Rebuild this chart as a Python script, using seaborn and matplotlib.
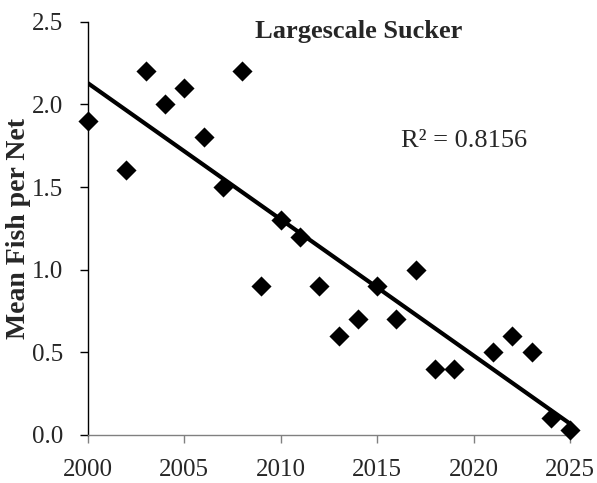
import numpy as np
import pandas as pd
import matplotlib
matplotlib.use("Agg")
import matplotlib.pyplot as plt
import seaborn as sns

years = [2000, 2002, 2003, 2004, 2005, 2006, 2007, 2008, 2009, 2010, 2011, 2012,
         2013, 2014, 2015, 2016, 2017, 2018, 2019, 2021, 2022, 2023, 2024, 2025]
fish_per_net = [1.9, 1.6, 2.2, 2.0, 2.1, 1.8, 1.5, 2.2, 0.9, 1.3, 1.2, 0.9,
                0.6, 0.7, 0.9, 0.7, 1.0, 0.4, 0.4, 0.5, 0.6, 0.5, 0.1, 0.03]
x_ticks = [2000, 2005, 2010, 2015, 2020, 2025]
y_ticks = [0.0, 0.5, 1.0, 1.5, 2.0, 2.5]

df = pd.DataFrame({"Year": years, "Fish": fish_per_net})

sns.set_theme(style="ticks")
plt.rcParams["font.family"] = ["Liberation Serif", "DejaVu Serif"]

fig = plt.figure(figsize=(5.97, 4.83), dpi=100)
ax = fig.add_axes([0.147, 0.0994, 0.808, 0.8557])

# linear trend line and the yearly means
sns.regplot(data=df, x="Year", y="Fish", ax=ax, scatter=False, ci=None,
            truncate=True, line_kws={"color": "black", "linewidth": 3.0})
sns.scatterplot(data=df, x="Year", y="Fish", ax=ax, marker="D", s=105,
                color="black", edgecolor="black", linewidth=0, zorder=3,
                clip_on=False)

ax.set_xlim(2000, 2025)
ax.set_ylim(0, 2.5)
ax.set_xticks(x_ticks)
ax.set_yticks(y_ticks)
ax.set_yticklabels([f"{v:.1f}" for v in y_ticks])
ax.tick_params(axis="x", labelsize=18, color="#808080", length=6, width=1,
               direction="out", pad=11)
ax.tick_params(axis="y", labelsize=18, color="black", length=6, width=1,
               direction="out", pad=12)
ax.spines["left"].set_color("black")
ax.spines["bottom"].set_color("#808080")
for side in ["left", "bottom"]:
    ax.spines[side].set_linewidth(1)
sns.despine(ax=ax)

ax.set_xlabel("")
ax.set_ylabel("Mean Fish per Net", fontsize=20, fontweight="bold")
ax.yaxis.set_label_coords(-0.118, 0.5)
ax.text(0.562, 0.977, "Largescale Sucker", transform=ax.transAxes,
        ha="center", va="center", fontsize=19, fontweight="bold")
ax.text(0.78, 0.711, "R\u00b2 = 0.8156", transform=ax.transAxes,
        ha="center", va="center", fontsize=19)

fig.savefig("out.png", dpi=100, facecolor="white")
